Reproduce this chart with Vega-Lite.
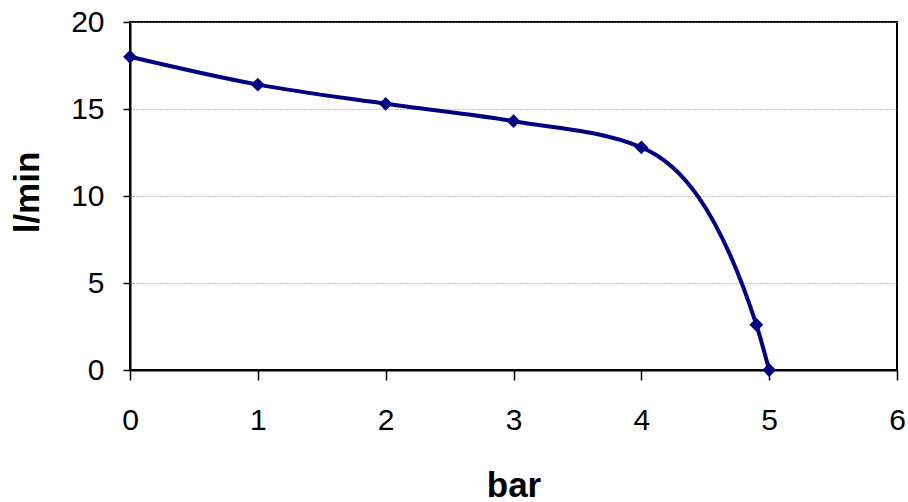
{
  "$schema": "https://vega.github.io/schema/vega-lite/v6.json",
  "width": 767,
  "height": 348,
  "autosize": {"type": "none"},
  "padding": {"left": 130, "top": 22, "right": 11, "bottom": 132},
  "background": "white",
  "config": {
    "view": {"stroke": "black", "strokeWidth": 2},
    "font": "Liberation Sans"
  },
  "data": {
    "values": [
      {"bar": 0, "lmin": 18.0},
      {"bar": 1, "lmin": 16.4},
      {"bar": 2, "lmin": 15.3},
      {"bar": 3, "lmin": 14.3},
      {"bar": 4, "lmin": 12.8},
      {"bar": 4.9, "lmin": 2.6},
      {"bar": 5, "lmin": 0}
    ]
  },
  "encoding": {
    "x": {
      "field": "bar",
      "type": "quantitative",
      "scale": {"domain": [0, 6], "nice": false, "zero": false},
      "axis": {
        "values": [0, 1, 2, 3, 4, 5, 6],
        "grid": false,
        "domainColor": "black",
        "domainWidth": 2,
        "tickColor": "black",
        "tickWidth": 1.5,
        "tickSize": 10,
        "labelFontSize": 30,
        "labelColor": "black",
        "labelPadding": 25,
        "labelFlush": false,
        "title": "bar",
        "titleFontSize": 35,
        "titleFontWeight": "bold",
        "titleColor": "black",
        "titleY": 126,
        "titleBaseline": "alphabetic"
      }
    },
    "y": {
      "field": "lmin",
      "type": "quantitative",
      "scale": {"domain": [0, 20], "nice": false},
      "axis": {
        "values": [0, 5, 10, 15, 20],
        "grid": true,
        "gridColor": "#888888",
        "gridDash": [1, 2],
        "gridWidth": 1,
        "domainColor": "black",
        "domainWidth": 2,
        "tickColor": "black",
        "tickWidth": 1.5,
        "tickSize": 7,
        "labelFontSize": 30,
        "labelColor": "black",
        "labelPadding": 19,
        "labelFlush": false,
        "title": "l/min",
        "titleFontSize": 35,
        "titleFontWeight": "bold",
        "titleColor": "black",
        "titleAngle": 270,
        "titleX": -92,
        "titleY": 170,
        "titleAlign": "center",
        "titleBaseline": "alphabetic"
      }
    }
  },
  "layer": [
    {
      "mark": {"type": "line", "interpolate": "monotone", "color": "#000080", "strokeWidth": 4}
    },
    {
      "mark": {"type": "point", "shape": "diamond", "filled": true, "color": "#000080", "size": 190, "opacity": 1}
    }
  ]
}
